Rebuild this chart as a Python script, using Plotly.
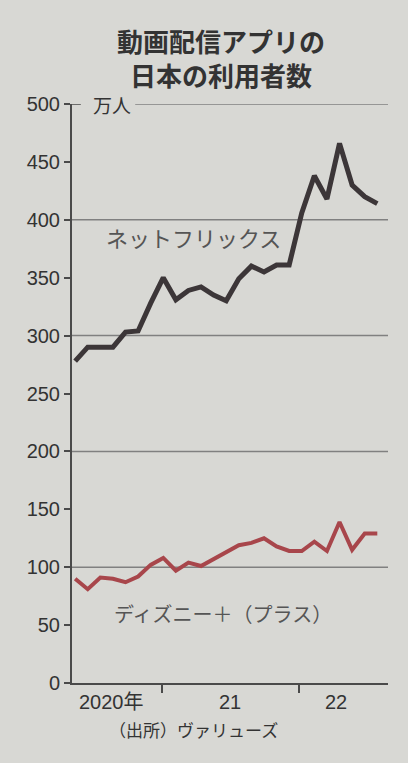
"""動画配信アプリの日本の利用者数 (Netflix / Disney+), newspaper-style line chart."""

import plotly.graph_objects as go

# ---- data -----------------------------------------------------------------
# monthly, May 2020 .. May 2022 (万人)
months = [
    "2020-05", "2020-06", "2020-07", "2020-08", "2020-09", "2020-10",
    "2020-11", "2020-12", "2021-01", "2021-02", "2021-03", "2021-04",
    "2021-05", "2021-06", "2021-07", "2021-08", "2021-09", "2021-10",
    "2021-11", "2021-12", "2022-01", "2022-02", "2022-03", "2022-04",
    "2022-05",
]
netflix = [278, 290, 290, 290, 303, 304, 328, 350, 331, 339, 342, 335, 330,
           349, 360, 355, 361, 361, 406, 438, 418, 466, 430, 420, 414]
disney = [90, 81, 91, 90, 87, 92, 102, 108, 97, 104, 101, 107, 113,
          119, 121, 125, 118, 114, 114, 122, 114, 139, 115, 129, 129]

y_ticks = [0, 50, 100, 150, 200, 250, 300, 350, 400, 450, 500]
grid_levels = [100, 200, 300, 400]
year_labels = ["2020年", "21", "22"]
year_label_pos = [2.85, 12.3, 20.7]
year_breaks = [6.9, 17.8]
title_lines = ["動画配信アプリの", "日本の利用者数"]

FONT = "Liberation Sans, Arial, Noto Sans CJK JP, sans-serif"
JP_FONT = "Noto Sans CJK JP, sans-serif"
PAPER = "#d8d8d4"
INK = "#333333"

W, H = 408, 763
M = dict(l=72, r=20, t=104, b=80)
PLOT_W = W - M["l"] - M["r"]
PLOT_H = H - M["t"] - M["b"]

x = list(range(len(months)))

fig = go.Figure()
fig.add_trace(go.Scatter(
    x=x, y=netflix, mode="lines", name="ネットフリックス",
    line=dict(color="#3c3638", width=5), customdata=months,
    hovertemplate="%{customdata}: %{y}万人<extra></extra>",
))
fig.add_trace(go.Scatter(
    x=x, y=disney, mode="lines", name="ディズニー＋（プラス）",
    line=dict(color="#a8464b", width=4), customdata=months,
    hovertemplate="%{customdata}: %{y}万人<extra></extra>",
))

# gridlines only every 100
for v in grid_levels:
    fig.add_shape(type="line", xref="paper", yref="y", x0=0, x1=1, y0=v, y1=v,
                  line=dict(color="#808080", width=1.5), layer="below")
# 500 line broken by the unit label
fig.add_shape(type="line", xref="paper", yref="y", x0=0, x1=0.028, y0=500, y1=500,
              line=dict(color="#4a4a4a", width=1.5), layer="below")
fig.add_shape(type="line", xref="paper", yref="y", x0=0.2, x1=1, y0=500, y1=500,
              line=dict(color="#808080", width=1.5), layer="below")

fig.update_layout(
    width=W, height=H,
    paper_bgcolor=PAPER, plot_bgcolor=PAPER,
    showlegend=False,
    margin=M,
    font=dict(family=FONT, size=20, color=INK),
    xaxis=dict(
        range=[-0.25, 24.85], showgrid=False, zeroline=False,
        showline=True, linecolor="#4a4a4a", linewidth=2,
        tickvals=year_breaks, ticks="outside", ticklen=8, tickwidth=1.5,
        tickcolor="#4a4a4a", showticklabels=False,
    ),
    yaxis=dict(
        range=[0, 500], tickvals=y_ticks, showgrid=False, zeroline=False,
        showline=True, linecolor="#4a4a4a", linewidth=2,
        ticks="outside", ticklen=6, tickwidth=1.5, tickcolor="#4a4a4a",
        tickfont=dict(family=FONT, size=20, color=INK),
    ),
)

# two-line title, centred a little right of the figure middle
fig.add_annotation(x=(221 - M["l"]) / PLOT_W,
                   y=(H - M["b"] - 57) / PLOT_H,
                   xref="paper", yref="paper",
                   yanchor="middle", xanchor="center",
                   text="<br>".join(f"<b>{t}</b>" for t in title_lines),
                   showarrow=False,
                   font=dict(family=JP_FONT, size=26, color=INK))

for lbl, pos in zip(year_labels, year_label_pos):
    fig.add_annotation(x=pos, y=0, xref="x", yref="paper", text=lbl,
                       showarrow=False, yanchor="top", yshift=-6,
                       font=dict(family=FONT, size=20, color=INK))

fig.add_annotation(x=0.06, y=500, xref="paper", yref="y", text="万人",
                   showarrow=False, xanchor="left",
                   font=dict(family=JP_FONT, size=19, color=INK))
fig.add_annotation(x=2.3, y=385, xref="x", yref="y", text="ネットフリックス",
                   showarrow=False, xanchor="left",
                   font=dict(family=JP_FONT, size=22, color="#555555"))
fig.add_annotation(x=2.9, y=60, xref="x", yref="y", text="ディズニー＋（プラス）",
                   showarrow=False, xanchor="left",
                   font=dict(family=JP_FONT, size=20, color="#555555"))
fig.add_annotation(x=0.11, y=0, xref="paper", yref="paper", text="（出所）ヴァリューズ",
                   showarrow=False, xanchor="left", yanchor="top", yshift=-32,
                   font=dict(family=JP_FONT, size=17, color=INK))

# drop the default page margin so the figure fills the window
fig.write_html(
    "out.html",
    config={"displayModeBar": False},
    post_script="document.body.style.margin='0';"
                "document.body.style.background='#d8d8d4';",
)
